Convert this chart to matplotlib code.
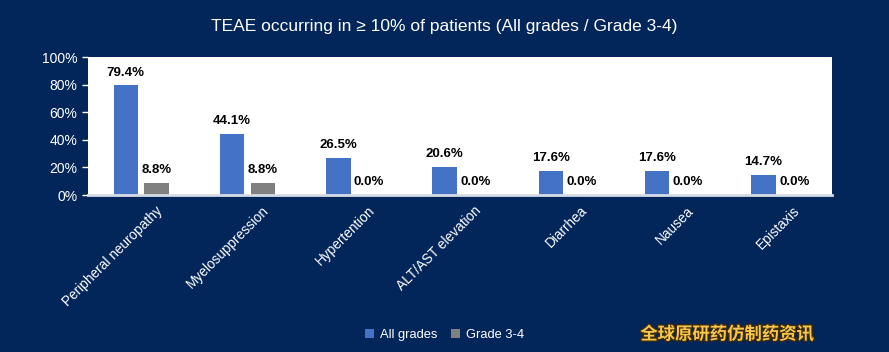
import numpy as np
import matplotlib
matplotlib.use('Agg')
import matplotlib.pyplot as plt
import matplotlib.patheffects as pe
from matplotlib.transforms import ScaledTranslation

categories = ['Peripheral neuropathy', 'Myelosuppression', 'Hypertention',
              'ALT/AST elevation', 'Diarrhea', 'Nausea', 'Epistaxis']
all_grades = [79.4, 44.1, 26.5, 20.6, 17.6, 17.6, 14.7]
grade_34 = [8.8, 8.8, 0.0, 0.0, 0.0, 0.0, 0.0]
yticks = [0, 20, 40, 60, 80, 100]

bg = '#02255a'
blue = '#4472c4'
grey = '#808080'

plt.rcParams['font.family'] = ['Liberation Sans', 'DejaVu Sans']

fig = plt.figure(figsize=(8.89, 3.52), dpi=100, facecolor=bg)
ax = fig.add_axes([0.099, 0.446, 0.837, 0.392])
ax.set_facecolor('white')

x = np.arange(len(categories))
w = 0.23
off = 0.145
b1 = ax.bar(x - off, all_grades, w, color=blue, label='All grades')
b2 = ax.bar(x + off, grade_34, w, color=grey, label='Grade 3-4')

for bars, vals in ((b1, all_grades), (b2, grade_34)):
    for b, v in zip(bars, vals):
        ax.annotate(f'{v:.1f}%', (b.get_x() + b.get_width() / 2, v),
                    xytext=(0, 5), textcoords='offset points',
                    ha='center', va='bottom', fontsize=9.5,
                    fontweight='bold', color='black')

ax.set_xlim(-0.5, len(categories) - 0.5)
ax.set_ylim(0, 100)
ax.set_yticks(yticks)
ax.set_yticklabels([f'{t}%' for t in yticks], color='white', fontsize=10)
ax.tick_params(axis='y', colors='white', length=4, width=1, labelcolor='white')
ax.set_xticks(x)
ax.set_xticklabels(categories, rotation=45, ha='right', rotation_mode='anchor',
                   color='white', fontsize=9.8)
ax.tick_params(axis='x', length=0, pad=6)
shift = ScaledTranslation(10 / 72, 0, fig.dpi_scale_trans)
for lbl in ax.get_xticklabels():
    lbl.set_transform(lbl.get_transform() + shift)

for s in ['top', 'right', 'left']:
    ax.spines[s].set_visible(False)
ax.spines['bottom'].set_color('#d6dce6')
ax.spines['bottom'].set_linewidth(2)

fig.text(0.5, 0.925, 'TEAE occurring in \u2265 10% of patients (All grades / Grade 3-4)',
         ha='center', va='center', color='white', fontsize=12.5)

leg = fig.legend(handles=[b1, b2], loc='center', bbox_to_anchor=(0.5, 0.048),
                 ncol=2, frameon=False, fontsize=9.3, labelcolor='white',
                 handlelength=0.7, handleheight=0.7, handletextpad=0.5,
                 columnspacing=1.0)

fig.text(0.818, 0.05, '全球原研药仿制药资讯', ha='center', va='center',
         fontsize=12.5, fontweight='bold', color='#f7c64a',
         family=['Noto Sans CJK SC', 'DejaVu Sans'],
         path_effects=[pe.withStroke(linewidth=2, foreground='#3a2a10')])

fig.savefig('out.png', dpi=100, facecolor=bg)
